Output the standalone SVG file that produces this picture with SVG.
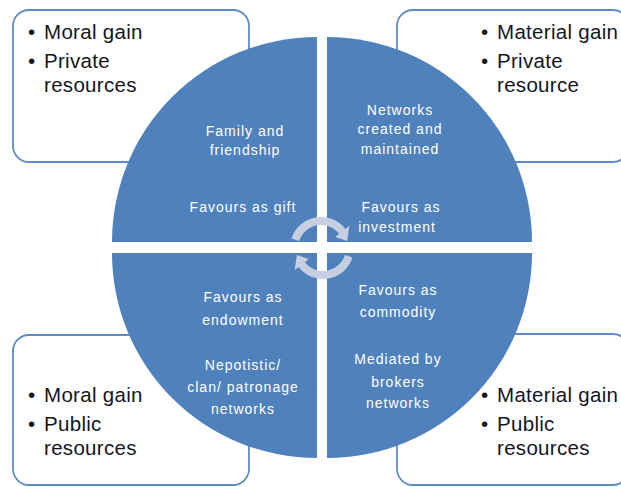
<svg xmlns="http://www.w3.org/2000/svg" width="621" height="487" viewBox="0 0 621 487">
  <style>
    .box { fill: #ffffff; stroke: #5f8bc4; stroke-width: 1.8; }
    .quad { fill: #4f81bd; }
    .btxt { font-family: "Liberation Sans", Arial, sans-serif; font-size: 20.5px; letter-spacing: 0.3px; fill: #15151f; }
    .ctxt { font-family: "Liberation Sans", Arial, sans-serif; font-size: 14px; fill: #ffffff; text-anchor: middle; letter-spacing: 1px; }
    .cyc { fill: #c5cfe1; }
  </style>

  <!-- outer boxes (behind the circle) -->
  <g id="box-top-left">
    <rect class="box" x="13" y="10" width="236" height="152" rx="16"/>
    <text class="btxt" x="28" y="39">•</text>
    <text class="btxt" x="44" y="39">Moral gain</text>
    <text class="btxt" x="28" y="68">•</text>
    <text class="btxt" x="44" y="68">Private</text>
    <text class="btxt" x="44" y="92">resources</text>
  </g>
  <g id="box-top-right">
    <rect class="box" x="397" y="10" width="232" height="152" rx="16"/>
    <text class="btxt" x="481" y="39">•</text>
    <text class="btxt" x="497" y="39">Material gain</text>
    <text class="btxt" x="481" y="68">•</text>
    <text class="btxt" x="497" y="68">Private</text>
    <text class="btxt" x="497" y="92">resource</text>
  </g>
  <g id="box-bottom-left">
    <rect class="box" x="13" y="335" width="236" height="150" rx="16"/>
    <text class="btxt" x="28" y="402">•</text>
    <text class="btxt" x="44" y="402">Moral gain</text>
    <text class="btxt" x="28" y="431">•</text>
    <text class="btxt" x="44" y="431">Public</text>
    <text class="btxt" x="44" y="455">resources</text>
  </g>
  <g id="box-bottom-right">
    <rect class="box" x="397" y="334" width="232" height="151" rx="16"/>
    <text class="btxt" x="481" y="402">•</text>
    <text class="btxt" x="497" y="402">Material gain</text>
    <text class="btxt" x="481" y="431">•</text>
    <text class="btxt" x="497" y="431">Public</text>
    <text class="btxt" x="497" y="455">resources</text>
  </g>

  <!-- circle quadrants -->
  <g id="quad-top-left">
    <path class="quad" d="M317 242 L112 242 A205 205 0 0 1 317 37 Z"/>
    <text class="ctxt" x="245" y="136">Family and</text>
    <text class="ctxt" x="245" y="155">friendship</text>
    <text class="ctxt" x="243" y="212">Favours as gift</text>
  </g>
  <g id="quad-top-right">
    <path class="quad" d="M327 242 L327 37 A205 205 0 0 1 532 242 Z"/>
    <text class="ctxt" x="400" y="115">Networks</text>
    <text class="ctxt" x="400" y="134">created and</text>
    <text class="ctxt" x="400" y="154">maintained</text>
    <text class="ctxt" x="401" y="212">Favours as</text>
    <text class="ctxt" x="397" y="232">investment</text>
  </g>
  <g id="quad-bottom-left">
    <path class="quad" d="M317 253 L317 458 A205 205 0 0 1 112 253 Z"/>
    <text class="ctxt" x="243" y="302">Favours as</text>
    <text class="ctxt" x="243" y="325">endowment</text>
    <text class="ctxt" x="243" y="370">Nepotistic/</text>
    <text class="ctxt" x="243" y="392">clan/ patronage</text>
    <text class="ctxt" x="243" y="414">networks</text>
  </g>
  <g id="quad-bottom-right">
    <path class="quad" d="M327 253 L532 253 A205 205 0 0 1 327 458 Z"/>
    <text class="ctxt" x="398" y="295">Favours as</text>
    <text class="ctxt" x="398" y="317">commodity</text>
    <text class="ctxt" x="398" y="364">Mediated by</text>
    <text class="ctxt" x="398" y="387">brokers</text>
    <text class="ctxt" x="398" y="408">networks</text>
  </g>

  <!-- central cycle arrows -->
  <g id="connectors">
    <path id="cycle-top" class="cyc" d="M291.5 238.4 A31 31 0 0 1 345.4 228.9 L349.4 225.8 L347.1 241 L335.2 236.9 L339.1 233.8 A23 23 0 0 0 299.1 240.9 Z"/>
    <path id="cycle-bottom" class="cyc" d="M291.5 238.4 A31 31 0 0 1 345.4 228.9 L349.4 225.8 L347.1 241 L335.2 236.9 L339.1 233.8 A23 23 0 0 0 299.1 240.9 Z" transform="rotate(180 322 248)"/>
  </g>
</svg>
